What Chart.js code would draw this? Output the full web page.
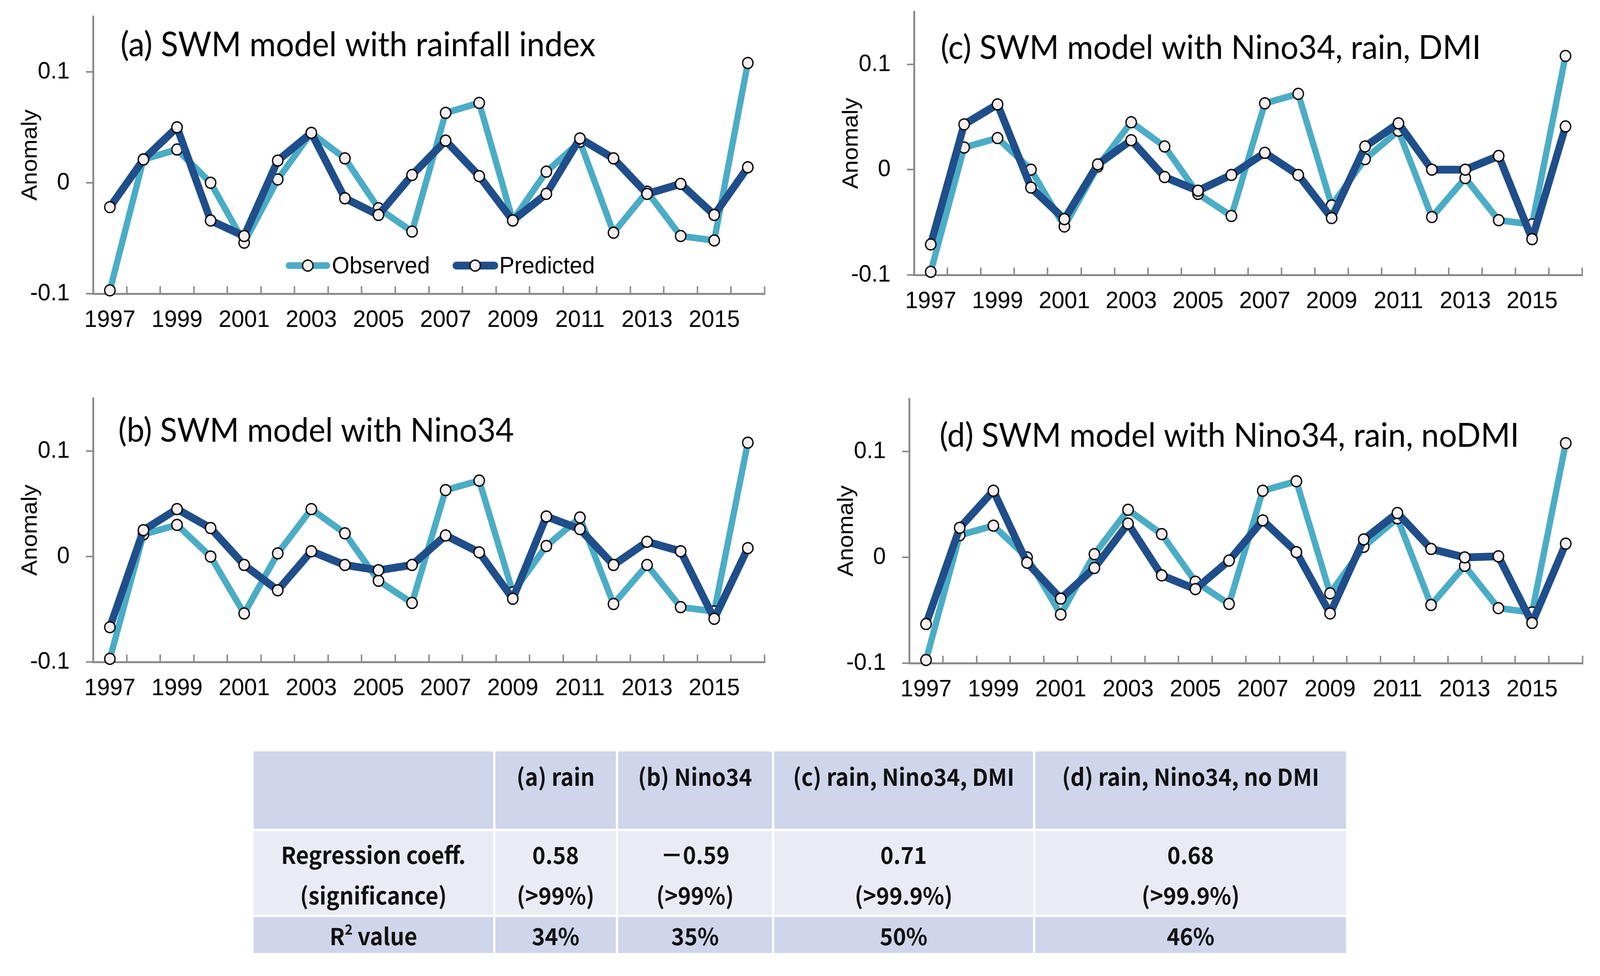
<!DOCTYPE html>
<html>
<head>
<meta charset="utf-8">
<script src="https://cdn.jsdelivr.net/npm/chart.js@4.4.1/dist/chart.umd.min.js"></script>
<style>
  html, body { margin: 0; padding: 0; background: #fff; overflow: hidden; }
  #page { position: absolute; left: 0; top: 0; width: 4315px; height: 2499px; transform-origin: 0 0; background: #fff; }
  canvas { position: absolute; }
  #tbl { position: absolute; left: 684px; top: 1924px; display: grid;
         grid-template-columns: 646px 325px 415px 698px 838px;
         grid-template-rows: 198px 214px 92px; gap: 6px;
         font-family: "Noto Sans CJK JP"; font-weight: 700; font-size: 60px; color: #111; }
  #tbl div { text-align: center; box-sizing: border-box; white-space: nowrap; }
  #tbl .hd { background: #CFD5EA; padding-top: 24px; line-height: 76px; }
  #tbl .md { background: #E9EBF5; padding-top: 6px; line-height: 104px; }
  #tbl .r2 { background: #CFD5EA; line-height: 92px; }
  #tbl sup { font-size: 0.6em; line-height: 0; vertical-align: 0.75em; }
</style>
</head>
<body>
<div id="page">
  <canvas id="chart-a"></canvas>
  <canvas id="chart-b"></canvas>
  <canvas id="chart-c"></canvas>
  <canvas id="chart-d"></canvas>
  <div id="tbl"></div>
</div>
<script>
  // values
  const years = [1997, 1998, 1999, 2000, 2001, 2002, 2003, 2004, 2005, 2006,
      2007, 2008, 2009, 2010, 2011, 2012, 2013, 2014, 2015, 2016];
  const yTicks = [-0.1, 0, 0.1];
  const observed = [-0.097, 0.021, 0.030, 0.000, -0.054, 0.003, 0.045, 0.022, -0.023, -0.044,
      0.063, 0.072, -0.034, 0.010, 0.037, -0.045, -0.008, -0.048, -0.052, 0.108];
  const predictedRain = [-0.022, 0.021, 0.050, -0.034, -0.048, 0.020, 0.045, -0.014, -0.029, 0.007,
      0.038, 0.006, -0.034, -0.010, 0.040, 0.022, -0.010, -0.001, -0.029, 0.014];
  const predictedNino = [-0.067, 0.025, 0.045, 0.027, -0.008, -0.032, 0.005, -0.008, -0.013, -0.008,
      0.020, 0.004, -0.040, 0.038, 0.026, -0.008, 0.014, 0.005, -0.059, 0.008];
  const predictedDMI = [-0.071, 0.043, 0.062, -0.017, -0.047, 0.005, 0.028, -0.007, -0.020, -0.005,
      0.016, -0.005, -0.046, 0.022, 0.044, 0.000, 0.000, 0.013, -0.066, 0.041];
  const predictedNoDMI = [-0.063, 0.028, 0.063, -0.005, -0.039, -0.010, 0.032, -0.017, -0.030, -0.003,
      0.035, 0.005, -0.053, 0.017, 0.042, 0.008, 0.000, 0.001, -0.062, 0.013];
  const seriesNames = ['Observed', 'Predicted'];
  const panelTitles = ['(a) SWM model with rainfall index', '(b) SWM model with Nino34',
      '(c) SWM model with Nino34, rain, DMI', '(d) SWM model with Nino34, rain, noDMI'];

  const tableHead = ['(a) rain', '(b) Nino34', '(c) rain, Nino34, DMI', '(d) rain, Nino34, no DMI'];
  const coeffs = ['0.58', '－0.59', '0.71', '0.68'];
  const significance = ['(>99%)', '(>99%)', '(>99.9%)', '(>99.9%)'];
  const r2values = ['34%', '35%', '50%', '46%'];

  const lightBlue = '#4BACC6', darkBlue = '#1F4E8A', axisGray = '#8A8A8A', markerFill = '#F5F0EF';
  const Y_AXIS_W = 205, X_AXIS_H = 110;

  // the layout below is in 4315x2499 units; stretch it onto whatever window we get
  document.getElementById('page').style.transform =
      `scale(${window.innerWidth / 4315}, ${window.innerHeight / 2499})`;

  // page geometry of each panel: canvas box, plot area, title baseline
  const panels = [
      {id: 'chart-a', title: panelTitles[0], pred: predictedRain, legend: {dx: 519, dy: 638},
          canvas: {x: 0, y: 0, w: 2130, h: 900}, area: {l: 251, t: 42, r: 2062, b: 752},
          head: {x: 325, y: 144, w: 1281}},
      {id: 'chart-b', title: panelTitles[1], pred: predictedNino,
          canvas: {x: 0, y: 920, w: 2130, h: 900}, area: {l: 251, t: 1020, r: 2062, b: 1695},
          head: {x: 319, y: 1131, w: 1067}},
      {id: 'chart-c', title: panelTitles[2], pred: predictedDMI,
          canvas: {x: 2180, y: 0, w: 2135, h: 900}, area: {l: 2465, t: 30, r: 4267, b: 704},
          head: {x: 2537, y: 151, w: 1457}},
      {id: 'chart-d', title: panelTitles[3], pred: predictedNoDMI,
          canvas: {x: 2180, y: 920, w: 2135, h: 900}, area: {l: 2452, t: 1021, r: 4268, b: 1698},
          head: {x: 2534, y: 1144, w: 1563}}
  ];

  const fitFont = (text, width) => {
      const c = document.createElement('canvas').getContext('2d');
      c.font = '100px Lato';
      return 100 * width / c.measureText(text).width;
  };

  // panel heading + the in-plot legend of panel (a)
  const panelText = {
      id: 'panelText',
      afterDraw: (chart, args, opts) => {
          const ctx = chart.ctx;
          ctx.save();
          ctx.fillStyle = '#000';
          ctx.textAlign = 'left';
          ctx.textBaseline = 'alphabetic';
          ctx.font = `${opts.size}px Lato`;
          ctx.fillText(opts.text, opts.x, opts.y);
          if (opts.legend) {
              let x = chart.chartArea.left + opts.legend.dx;
              const y = chart.chartArea.top + opts.legend.dy;
              ctx.font = '61px "Liberation Sans"';
              ctx.textBaseline = 'middle';
              chart.data.datasets.forEach(ds => {
                  ctx.strokeStyle = ds.borderColor;
                  ctx.lineWidth = ds.borderWidth;
                  ctx.lineCap = 'round';
                  ctx.beginPath();
                  ctx.moveTo(x + 9, y);
                  ctx.lineTo(x + 112, y);
                  ctx.stroke();
                  ctx.beginPath();
                  ctx.arc(x + 60, y, ds.pointRadius, 0, Math.PI * 2);
                  ctx.fillStyle = markerFill;
                  ctx.fill();
                  ctx.lineWidth = ds.pointBorderWidth;
                  ctx.strokeStyle = '#000';
                  ctx.stroke();
                  ctx.fillStyle = '#000';
                  ctx.fillText(ds.label, x + 125, y + 3);
                  x += 125 + ctx.measureText(ds.label).width + 62;
              });
          }
          ctx.restore();
      }
  };

  const tickFont = {family: 'Liberation Sans', size: 62};

  panels.forEach(p => {
      const el = document.getElementById(p.id);
      el.width = p.canvas.w;
      el.height = p.canvas.h;
      el.style.left = p.canvas.x + 'px';
      el.style.top = p.canvas.y + 'px';

      const series = (label, data, color, width, order) => ({
          label: label,
          data: data,
          borderColor: color,
          backgroundColor: color,
          borderWidth: width,
          borderJoinStyle: 'round',
          tension: 0,
          order: order,
          clip: false,
          pointRadius: 14,
          pointHoverRadius: 14,
          pointBorderWidth: 3.5,
          pointBorderColor: '#000',
          pointBackgroundColor: markerFill
      });

      new Chart(el, {
          type: 'line',
          data: {
              labels: years,
              datasets: [
                  series(seriesNames[0], observed, lightBlue, 17, 1),
                  series(seriesNames[1], p.pred, darkBlue, 20, 0)
              ]
          },
          plugins: [panelText],
          options: {
              responsive: false,
              animation: false,
              devicePixelRatio: 1,
              layout: {
                  padding: {
                      left: p.area.l - p.canvas.x - Y_AXIS_W,
                      top: p.area.t - p.canvas.y,
                      right: p.canvas.x + p.canvas.w - p.area.r,
                      bottom: p.canvas.y + p.canvas.h - p.area.b - X_AXIS_H
                  }
              },
              plugins: {
                  legend: {display: false},
                  tooltip: {enabled: false},
                  panelText: {
                      text: p.title,
                      size: fitFont(p.title, p.head.w),
                      x: p.head.x - p.canvas.x,
                      y: p.head.y - p.canvas.y,
                      legend: p.legend
                  }
              },
              scales: {
                  x: {
                      offset: true,
                      afterFit: s => { s.height = X_AXIS_H; s.paddingLeft = 0; s.paddingRight = 0 },
                      border: {color: axisGray, width: 5},
                      grid: {drawOnChartArea: false, offset: true, tickLength: -19, color: axisGray, lineWidth: 4},
                      ticks: {
                          autoSkip: false, maxRotation: 0, minRotation: 0,
                          font: tickFont, color: '#000', padding: 50,
                          callback: (v, i) => i % 2 ? '' : String(years[i])
                      }
                  },
                  y: {
                      min: -0.1,
                      max: 0.15,
                      afterBuildTicks: s => { s.ticks = yTicks.map(value => ({value})) },
                      afterFit: s => { s.width = Y_AXIS_W; s.paddingTop = 0; s.paddingBottom = 0 },
                      border: {color: axisGray, width: 5},
                      grid: {drawOnChartArea: false, tickLength: 19, color: axisGray, lineWidth: 4},
                      ticks: {font: tickFont, color: '#000', padding: 44, callback: v => String(v)},
                      title: {
                          display: true, text: 'Anomaly', color: '#000', padding: 0,
                          font: {family: 'Liberation Sans', size: 60}
                      }
                  }
              }
          }
      });
  });

  // summary table under the plots
  const rows = [
      {cls: 'hd', cells: ['', ...tableHead]},
      {cls: 'md', cells: ['Regression coeff.<br>(significance)', ...coeffs.map((c, i) => c + '<br>' + significance[i])]},
      {cls: 'r2', cells: ['R<sup>2</sup> value', ...r2values]}
  ];
  const tbl = document.getElementById('tbl');
  rows.forEach(r => r.cells.forEach(t => {
      const d = document.createElement('div');
      d.className = r.cls;
      d.innerHTML = t;
      tbl.appendChild(d);
  }));
</script>
</body>
</html>
